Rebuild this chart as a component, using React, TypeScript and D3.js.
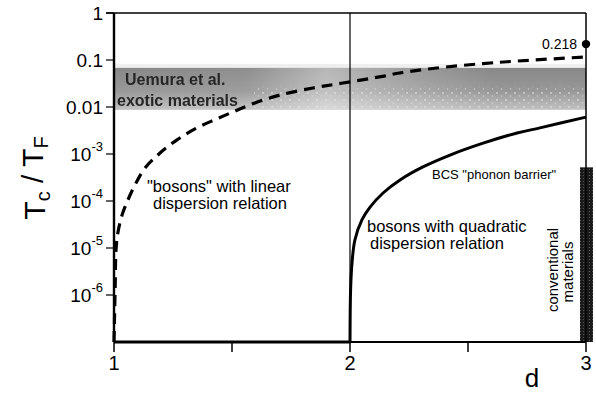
import React from "react";
import * as d3 from "d3";

// ---- data ----
const linearD = [1.0, 1.002, 1.005, 1.0085, 1.017, 1.034, 1.059, 1.089, 1.131, 1.195, 1.267, 1.347, 1.432, 1.513, 1.597, 1.703, 1.843, 1.97, 2.144, 2.21, 2.35, 2.564, 2.708, 2.847, 3.0];
const linearTc = [1e-7, 3e-7, 1.5e-6, 9.1e-6, 2.2e-5, 5.0e-5, 1.05e-4, 2.2e-4, 5.0e-4, 1.05e-3, 2.0e-3, 3.5e-3, 5.5e-3, 8.2e-3, 0.0122, 0.018, 0.0254, 0.0324, 0.0455, 0.053, 0.066, 0.084, 0.095, 0.105, 0.116];

const quadFlatD = [1.0, 2.0];
const quadFlatTc = [1e-7, 1e-7];
const quadD = [2.0, 2.001, 2.003, 2.0085, 2.021, 2.051, 2.085, 2.14, 2.212, 2.309, 2.424, 2.564, 2.708, 2.805, 3.0];
const quadTc = [1e-7, 5e-7, 1.5e-6, 4.8e-6, 1.5e-5, 4.0e-5, 7.4e-5, 1.48e-4, 2.8e-4, 5.3e-4, 9.5e-4, 1.7e-3, 2.8e-3, 3.6e-3, 6.1e-3];

const exoticBand = [0.0087, 0.068];
const conventionalTop = 5.2e-4;
const markerD = 3;
const markerTc = 0.218;
const markerLabel = "0.218";

const xDomain = [1, 3];
const yDomain = [1e-7, 1];
const xTicks = [1, 1.5, 2, 2.5, 3];
const xTickLabels = ["1", "", "2", "", "3"];
const yTicks = [1, 0.1, 0.01, 1e-3, 1e-4, 1e-5, 1e-6];
const yTickBase = ["1", "0.1", "0.01", "10", "10", "10", "10"];
const yTickSup = ["", "", "", "-3", "-4", "-5", "-6"];

const FONT = "'Liberation Sans', Arial, Helvetica, sans-serif";

export default function App() {
  const W = 596, H = 396;
  const x = d3.scaleLinear().domain(xDomain).range([114, 586]);
  const y = d3.scaleLog().domain(yDomain).range([342, 13]);

  const linePath = d3
    .line<number>()
    .x((_, i) => x(linearD[i]))
    .y((v) => y(v))
    .curve(d3.curveCatmullRom.alpha(0.5))(linearTc) as string;

  const quadPath = d3
    .line<number>()
    .x((_, i) => x(quadD[i]))
    .y((v) => y(v))
    .curve(d3.curveCatmullRom.alpha(0.5))(quadTc) as string;

  const quadFlatPath = d3
    .line<number>()
    .x((_, i) => x(quadFlatD[i]))
    .y((v) => y(v))(quadFlatTc) as string;

  const x0 = x(xDomain[0]), x1 = x(xDomain[1]);
  const yb = y(yDomain[0]), yt = y(yDomain[1]);
  const bandTop = y(exoticBand[1]);
  const bandBot = y(exoticBand[0]);

  return (
    <svg width={W} height={H} style={{ position: "absolute", left: 0, top: 0, background: "#fff" }} fontFamily={FONT}>
      <defs>
        <linearGradient id="bandV" x1="0" y1="0" x2="0" y2="1">
          <stop offset="0" stopColor="#888" />
          <stop offset="0.55" stopColor="#989898" />
          <stop offset="1" stopColor="#c2c2c2" />
        </linearGradient>
        <linearGradient id="bandH" x1="0" y1="0" x2="1" y2="0">
          <stop offset="0" stopColor="#fff" stopOpacity="0" />
          <stop offset="0.28" stopColor="#fff" stopOpacity="0.05" />
          <stop offset="0.45" stopColor="#fff" stopOpacity="0.4" />
          <stop offset="0.6" stopColor="#fff" stopOpacity="0.2" />
          <stop offset="0.8" stopColor="#fff" stopOpacity="0" />
          <stop offset="1" stopColor="#fff" stopOpacity="0" />
        </linearGradient>
        <pattern id="speck" width="9" height="7" patternUnits="userSpaceOnUse">
          <circle cx="2" cy="2" r="0.9" fill="#e8e8e8" />
          <circle cx="6.5" cy="5" r="0.8" fill="#dcdcdc" />
        </pattern>
        <pattern id="dark" width="3" height="3" patternUnits="userSpaceOnUse">
          <rect width="3" height="3" fill="#1a1a1a" />
          <rect x="1" y="1" width="1" height="1" fill="#555" />
        </pattern>
        <filter id="blur" x="-5%" y="-20%" width="110%" height="140%">
          <feGaussianBlur stdDeviation="0.7" />
        </filter>
      </defs>

      {/* exotic materials band */}
      <rect x={x0} y={bandTop - 4} width={x1 - x0} height={4} fill="#efefef" />
      <rect x={x0} y={bandTop} width={x1 - x0} height={bandBot - bandTop} fill="url(#bandV)" />
      <rect x={x0} y={bandTop} width={x1 - x0} height={bandBot - bandTop} fill="url(#bandH)" />
      <rect x={x0 + 140} y={bandTop + (bandBot - bandTop) * 0.45} width={x1 - x0 - 140} height={(bandBot - bandTop) * 0.55} fill="url(#speck)" opacity={0.7} />
      <g filter="url(#blur)" fontWeight="bold" fontSize={16} fill="#262626">
        <text x={125} y={85}>Uemura et al.</text>
        <text x={117} y={106}>exotic materials</text>
      </g>

      {/* conventional materials bar */}
      <rect x={x(3) - 6} y={y(conventionalTop)} width={13} height={yb - y(conventionalTop)} fill="url(#dark)" />

      {/* frame */}
      <line x1={x0 - 8} x2={x1} y1={yt} y2={yt} stroke="#000" strokeWidth={1.5} />
      <line x1={x1} x2={x1} y1={yt} y2={yb} stroke="#000" strokeWidth={1.5} />
      <line x1={x(2)} x2={x(2)} y1={yt} y2={yb} stroke="#000" strokeWidth={1.2} />
      <line x1={x0} x2={x1} y1={yb} y2={yb} stroke="#000" strokeWidth={1.8} />
      <line x1={x0} x2={x0} y1={yt} y2={yb} stroke="#000" strokeWidth={2.4} />

      {/* y ticks */}
      {yTicks.map((t, i) => (
        <g key={"yt" + i}>
          <line x1={x0 - 8} x2={x0} y1={y(t)} y2={y(t)} stroke="#000" strokeWidth={1.2} />
          <text x={x0 - 11} y={y(t)} dy="0.36em" textAnchor="end" fontSize={19} fill="#000">
            {yTickBase[i]}
            {yTickSup[i] ? (
              <tspan fontSize={13} dy="-0.75em">{yTickSup[i]}</tspan>
            ) : null}
          </text>
        </g>
      ))}

      {/* x ticks */}
      {xTicks.map((t, i) => (
        <g key={"xt" + i}>
          <line x1={x(t)} x2={x(t)} y1={yb} y2={yb + 10} stroke="#000" strokeWidth={1.5} />
          {xTickLabels[i] ? (
            <text x={x(t)} y={yb + 28} textAnchor="middle" fontSize={20} fill="#000">
              {xTickLabels[i]}
            </text>
          ) : null}
        </g>
      ))}

      {/* curves */}
      <path d={linePath} fill="none" stroke="#000" strokeWidth={3.2} strokeDasharray="11 7" />
      <path d={quadFlatPath} fill="none" stroke="#000" strokeWidth={3} />
      <path d={quadPath} fill="none" stroke="#000" strokeWidth={3} />

      {/* marker */}
      <circle cx={x(markerD)} cy={y(markerTc)} r={4.2} fill="#000" />
      <text x={x(markerD) - 9} y={y(markerTc)} dy="0.36em" textAnchor="end" fontSize={14} fill="#000">
        {markerLabel}
      </text>

      {/* annotations */}
      <g fontSize={16.5} fill="#000">
        <text x={147} y={192}>"bosons" with linear</text>
        <text x={153} y={209}>dispersion relation</text>
        <text x={367} y={232}>bosons with quadratic</text>
        <text x={370} y={249}>dispersion relation</text>
      </g>
      <text x={432} y={179} fontSize={13} fill="#000">BCS  "phonon barrier"</text>
      <g fontSize={15} fill="#000" textAnchor="middle">
        <text transform="translate(558,270) rotate(-90)">conventional</text>
        <text transform="translate(573,272) rotate(-90)">materials</text>
      </g>

      {/* axis titles */}
      <text transform="translate(45,178) rotate(-90)" textAnchor="middle" fontSize={30} fill="#000">
        T<tspan fontSize={20} dy="0.25em">c</tspan>
        <tspan dy="-0.25em"> / T</tspan>
        <tspan fontSize={20} dy="0.25em">F</tspan>
      </text>
      <text x={532} y={387} textAnchor="middle" fontSize={26} fill="#000">d</text>
    </svg>
  );
}
